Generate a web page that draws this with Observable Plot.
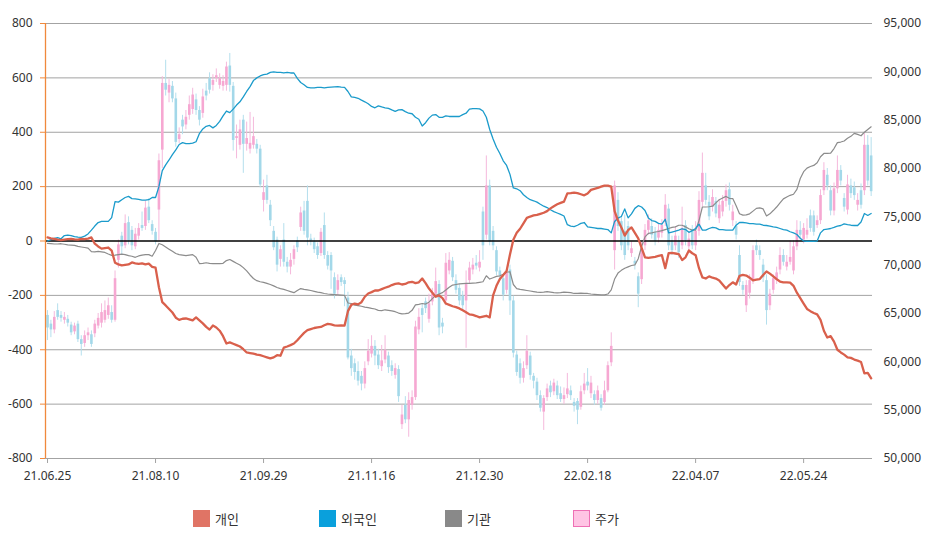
<!DOCTYPE html>
<html><head><meta charset="utf-8">
<script src="https://cdn.jsdelivr.net/npm/d3@7"></script>
<script src="https://cdn.jsdelivr.net/npm/@observablehq/plot@0.6"></script>
<style>
body{margin:0;background:#fff;font-family:"Noto Sans","Noto Sans CJK KR",sans-serif;}
#wrap{position:relative;width:934px;height:541px;overflow:hidden;}
#legend{position:absolute;top:509px;left:0;width:934px;height:20px;}
.item{position:absolute;top:0;display:flex;align-items:center;font-size:13px;color:#333;font-family:"Noto Sans CJK KR",sans-serif;}
.sw{width:17px;height:17px;margin-right:5px;box-sizing:border-box;}
</style></head><body><div id="wrap"><div id="chart"></div><div id="legend"></div></div>
<script>
// x tick labels (trading-day index -> date label)
const tickIdx = [0, 32, 64, 96, 128, 160, 192, 224];
const dateLabels = ["21.06.25","21.08.10","21.09.29","21.11.16","21.12.30","22.02.18","22.04.07","22.05.24"];
const leftTicks = [-800,-600,-400,-200,0,200,400,600,800];
const priceTicks = [50000,55000,60000,65000,70000,75000,80000,85000,90000,95000];

// 개인 (individual) cumulative net buying
const gaein = [13,10,8,5,3,5,7,8,6,5,
8,7,9,13,-10,-20,-28,-26,-24,-35,
-80,-86,-90,-88,-86,-79,-82,-84,-82,-86,
-83,-95,-98,-170,-225,-237,-250,-263,-282,-290,
-286,-285,-288,-292,-281,-292,-303,-316,-326,-311,
-318,-330,-350,-377,-373,-378,-383,-388,-398,-410,
-412,-414,-418,-420,-424,-428,-432,-428,-420,-422,
-392,-388,-383,-377,-365,-351,-338,-328,-324,-320,
-318,-316,-310,-305,-307,-310,-311,-310,-311,-258,
-235,-230,-233,-225,-205,-193,-188,-182,-182,-177,
-172,-168,-162,-158,-156,-160,-158,-152,-150,-155,
-152,-138,-155,-175,-190,-205,-200,-210,-230,-235,
-240,-243,-248,-255,-262,-270,-272,-276,-281,-278,
-275,-281,-200,-165,-140,-125,-110,-50,5,30,
45,65,85,90,94,96,100,104,110,120,
128,135,140,145,175,176,178,176,172,168,
175,188,192,195,200,204,204,200,110,75,
50,20,40,50,30,10,-25,-60,-62,-60,
-58,-55,-52,-100,-45,-44,-46,-48,-70,-60,
-35,-45,-52,-100,-134,-138,-130,-135,-138,-145,
-160,-175,-162,-152,-160,-128,-125,-127,-135,-145,
-142,-140,-125,-112,-120,-130,-140,-149,-152,-152,
-153,-165,-190,-210,-230,-250,-258,-265,-270,-290,
-330,-355,-350,-370,-400,-410,-418,-428,-430,-436,
-440,-445,-487,-485,-505];

// 외국인 (foreign)
const foreign = [0,5,10,12,8,20,22,20,16,14,
13,18,26,40,55,68,72,72,72,86,
145,143,152,160,164,156,155,153,150,150,
152,160,160,200,259,280,298,318,335,355,
362,358,358,360,365,395,412,422,425,416,
425,440,460,478,472,485,500,512,530,550,
568,590,600,607,612,614,620,622,620,620,
618,620,618,618,598,583,575,565,563,563,
565,565,563,565,566,567,568,566,565,550,
530,528,525,518,512,505,495,490,497,493,
490,488,482,477,482,483,476,470,468,455,
448,423,435,452,463,465,455,455,460,458,
458,458,458,465,470,485,487,487,486,478,
455,410,375,345,322,295,278,245,195,192,
185,170,160,152,148,143,135,128,123,115,
108,103,98,92,60,55,53,58,65,68,
52,50,48,46,46,44,42,30,72,84,
90,118,85,100,120,130,125,112,85,75,
72,65,62,80,30,33,36,40,45,42,
32,38,46,62,40,40,46,50,48,42,
42,40,40,40,58,68,68,67,64,64,
62,62,58,57,55,52,50,46,42,40,
34,30,24,10,0,-1,-1,-1,0,30,
42,44,46,50,55,57,63,60,58,57,
57,70,101,94,101];

// 기관 (institution)
const inst = [-9,-10,-11,-11,-10,-12,-14,-15,-16,-20,
-22,-24,-26,-39,-40,-38,-40,-42,-48,-53,
-52,-50,-48,-50,-54,-56,-60,-55,-52,-50,
-50,-56,-35,-9,-14,-22,-30,-38,-46,-50,
-52,-54,-52,-50,-60,-83,-82,-80,-82,-83,
-83,-83,-82,-72,-68,-75,-82,-88,-98,-110,
-125,-138,-146,-150,-152,-156,-160,-165,-171,-175,
-178,-182,-186,-190,-182,-175,-178,-180,-182,-185,
-188,-190,-193,-195,-196,-197,-198,-199,-200,-228,
-230,-236,-238,-240,-243,-245,-248,-250,-255,-256,
-253,-255,-257,-260,-265,-268,-267,-265,-255,-235,
-233,-230,-232,-225,-212,-200,-195,-190,-180,-170,
-162,-160,-158,-157,-156,-156,-155,-154,-152,-150,
-128,-140,-135,-130,-128,-122,-115,-113,-160,-175,
-178,-180,-182,-184,-186,-188,-189,-188,-186,-188,
-190,-191,-190,-188,-189,-190,-193,-193,-192,-193,
-193,-195,-196,-197,-198,-198,-195,-180,-140,-118,
-108,-100,-95,-90,-88,-65,-20,15,28,30,
33,35,38,42,46,50,52,58,58,52,
45,40,40,75,125,125,126,128,140,152,
158,164,157,156,130,100,95,96,100,110,
120,122,118,92,100,112,125,140,155,162,
168,172,190,230,255,268,274,278,288,310,
322,322,323,340,362,364,368,378,385,396,
392,387,400,410,420];

// 주가 (share price, won)
const open = [64800,63900,63300,65300,64800,64300,64400,63800,63100,63900,
62300,61900,62700,62800,62900,63700,64000,64300,64800,65100,
64300,70500,73000,72000,74400,73600,71900,73000,74100,74000,
76000,74200,73400,75700,81900,88800,87800,88500,87200,83000,
85000,84500,85500,86100,87100,86000,85700,88000,89300,88600,
89300,88600,88500,88600,90600,88500,83100,82400,85000,82500,
82000,82400,82500,82000,76700,78200,76200,73500,72600,70600,
72600,70300,69800,70600,72500,73900,75600,76600,72700,72400,
71900,71200,74100,71000,71000,68700,67400,68700,68400,66600,
60600,59800,59000,58500,57700,60000,60800,61600,60700,59500,
60200,60600,59600,58600,59200,53500,55500,54000,55500,56300,
63300,65500,66200,64400,66200,67000,68000,64000,66300,69400,
70400,68400,67600,66800,66300,68400,69500,70200,69700,75500,
73100,78200,73500,71500,69400,68600,67400,69500,66300,60700,
59800,58300,59600,60600,58500,57900,56500,54800,56300,57500,
56900,57500,56700,56100,56600,57000,55800,55900,55300,57000,
57900,56700,56600,56000,56200,55800,57000,59900,71500,76700,
74500,73500,74000,71200,70400,68800,68500,72000,73600,74000,
73400,72800,73300,74400,75800,72500,72000,72500,72000,74100,
71900,73600,72000,73500,76500,78200,76500,76000,76600,74800,
75500,76600,77800,74600,74000,71000,67900,65800,67100,68400,
72000,71500,70000,68400,65800,67400,68400,69500,71000,69800,
70300,69400,71900,73600,72600,73100,75100,75100,74100,74600,
77700,79300,77700,75600,77900,79800,76900,75700,78200,78000,
76200,77700,77700,82400,81300];
const high = [65300,64300,65200,66000,65200,65100,64800,64100,64000,64200,
62700,63200,63500,63200,64300,65000,66000,66300,66600,65800,
69400,72600,73400,75200,75000,74000,73800,74300,75500,76600,
76900,74600,73800,81500,89500,91200,89200,89000,87800,84200,
85500,86000,87500,88300,87700,86400,88200,88800,89900,89700,
90300,89800,89600,91000,91900,88900,84500,85000,85500,84800,
85800,85300,83000,82400,78800,79300,76700,74000,72900,72000,
74300,70800,71200,72000,72900,76000,76600,78200,73200,72800,
72300,73800,75400,71400,71300,69200,69000,69000,68700,67200,
61300,60300,60000,59000,60000,62300,62700,62200,61300,61700,
62700,61000,60100,59800,59600,55500,56400,56800,57000,64200,
65500,66000,66600,67000,67600,69700,68400,64500,71200,71300,
70800,69000,68000,67300,69400,70300,70700,71000,71500,76000,
81300,78800,74000,71900,69800,69000,69600,70000,66800,61100,
60300,60000,62700,61000,58800,58300,57000,56500,57700,58000,
58200,58000,57400,57300,58800,57500,56200,56200,57500,58800,
59300,58500,57000,57500,56600,58000,60000,63000,78700,77500,
75000,75200,74500,72400,70800,69200,72400,74200,75200,74800,
73900,74300,74700,77300,76300,73000,74000,73000,76000,74600,
73500,74100,74500,77600,81600,79500,77200,77800,77000,76800,
77200,78300,78500,76200,74500,72000,68300,68400,69000,72000,
72600,72000,70600,69000,67500,69000,69800,71800,71600,71000,
72500,72500,74600,74500,74300,74800,75700,75600,75100,77800,
80600,80000,78200,78500,81300,80300,77400,79300,78900,78600,
77400,78400,83600,83400,83200];
const low = [62200,62500,62900,64300,64100,63900,63600,62700,62800,62000,
60600,61500,62200,61500,62500,63400,63500,64000,64400,64000,
64100,69700,71000,71700,72100,71500,71600,72600,73500,73600,
74300,73100,72100,72500,80000,87500,86800,86800,82200,82600,
83500,84000,85000,85600,85500,84400,85200,87000,87700,88000,
88900,88200,88000,88000,87900,81800,81000,81900,79500,81800,
81500,82000,81500,78000,75500,76300,74000,71500,69300,69800,
69800,69200,69000,70000,71300,73500,73100,72000,72000,71200,
70600,70900,70600,69500,67500,66500,66800,67800,65700,60200,
58500,58100,57500,57000,57200,59600,60400,59600,59200,59000,
59800,58800,58500,58200,55800,53000,53600,52200,55000,56000,
62800,63000,65000,64000,65800,66700,62700,62900,65800,69000,
68300,67000,65800,65300,61400,68000,69000,69500,69300,70500,
72600,72000,71500,68900,68400,66300,67000,64800,60400,58500,
57700,57800,59200,58100,57200,56000,54800,52900,55900,56300,
56500,56100,55800,55600,56200,56000,54800,53500,55000,56600,
57000,56200,55500,55600,54900,55500,56800,59500,69500,73500,
71500,70500,71500,70800,69500,65600,68000,71500,73100,72700,
72000,72300,72800,74000,71500,71000,71500,70700,71600,72000,
71200,71600,71500,73000,76000,76200,74600,75500,74900,74300,
75000,76000,75600,74000,72600,67800,66900,65100,66500,68000,
71000,70500,68200,63800,65300,67000,68000,69000,69900,69400,
70000,69000,71500,72600,72200,72700,73400,73000,73800,74200,
77200,77700,75100,75100,77400,78200,75500,75200,76900,76700,
75600,75800,77200,78200,77100];
const close = [63500,63300,64600,64600,64500,64600,64000,63000,63700,62300,
61800,62700,63000,61800,63900,64500,65100,65300,65800,64300,
68600,72100,71900,74300,72500,72000,73200,73800,73800,75900,
74600,73500,72400,80800,88800,88100,88600,87200,82700,83500,
84300,85300,86600,87600,86000,85000,87400,87500,88100,89100,
89600,89300,89000,90500,88600,82900,83300,84000,82500,83100,
82600,83300,82000,78300,77500,76700,74600,71800,70000,71600,
70300,69800,70500,71600,71800,75400,73500,72800,72500,71600,
71000,73400,71000,69900,69400,67000,68400,68200,68000,60400,
59300,58900,58000,57700,59300,61100,61600,60600,59600,60100,
61200,59400,59000,59300,56400,54500,54000,56000,56300,63600,
64600,64800,65500,66000,67000,68300,63500,63600,70200,70500,
68700,67400,66300,65800,68000,69700,70000,69900,70300,72000,
78200,72400,72000,69300,68900,66900,69200,66300,60900,58900,
58300,59300,61100,58600,58000,56500,55200,56200,57200,56800,
57800,56500,56100,56500,57200,56500,55400,55000,56900,57700,
57500,57800,56000,57000,55200,57000,59600,61600,78200,74000,
72000,71000,72000,71700,70100,67000,71700,73600,74600,73100,
72500,73600,74100,76200,72000,71500,73000,71300,73800,72500,
72700,72000,73500,76700,79500,76700,75000,77000,75300,76200,
76600,77700,76200,75500,73100,68200,67400,67900,68400,71500,
71500,71000,68700,65300,67000,68600,69200,71000,70300,70300,
70800,71900,73600,73100,73800,73600,73800,73400,74600,77200,
79800,78200,75600,77900,79800,78700,76000,78300,77400,77200,
76700,76200,82400,78700,77600];

// price (right axis 50,000–95,000) onto the left scale (-800–800)
const toL = p => (p - 72500) / 28.125;
const fromL = v => Math.round(v * 28.125 + 72500);

const candles = open.map((o, i) => ({i, o: toL(o), h: toL(high[i]), l: toL(low[i]), c: toL(close[i]), up: close[i] >= o}));
const ups = candles.filter(d => d.up), downs = candles.filter(d => !d.up);
const lines = gaein.map((v, i) => ({i, a: v, f: foreign[i], g: inst[i]}));

const PINK = "#f6a8d2", PINKW = "#f5b9dc", BLUE = "#a3d8e9", BLUEW = "#b4dfed";
const font = "'Noto Sans', 'DejaVu Sans', sans-serif";

const chart = Plot.plot({
  width: 934, height: 495,
  marginTop: 23, marginBottom: 37, marginLeft: 45, marginRight: 62,
  x: {domain: [-0.6, 244.4], axis: null, label: null},
  y: {domain: [-800, 800], axis: null, label: null},
  style: {fontFamily: font, fontSize: "12px", background: "#fff", color: "#333"},
  marks: [
    Plot.ruleY(leftTicks.filter(d => d !== 0), {stroke: "#a3a3a3", strokeWidth: 1}),
    Plot.ruleX(ups, {x: "i", y1: "l", y2: "h", stroke: PINKW, strokeWidth: 1}),
    Plot.ruleX(downs, {x: "i", y1: "l", y2: "h", stroke: BLUEW, strokeWidth: 1}),
    Plot.ruleX(ups, {x: "i", y1: "o", y2: "c", stroke: PINK, strokeWidth: 2.6}),
    Plot.ruleX(downs, {x: "i", y1: "o", y2: "c", stroke: BLUE, strokeWidth: 2.6}),
    Plot.ruleY([0], {stroke: "#000", strokeWidth: 1.3}),
    Plot.line(lines, {x: "i", y: "g", stroke: "#8c8c8c", strokeWidth: 1.2}),
    Plot.line(lines, {x: "i", y: "f", stroke: "#1b9bcb", strokeWidth: 1.3}),
    Plot.line(lines, {x: "i", y: "a", stroke: "#d9604c", strokeWidth: 2.3}),
    Plot.ruleX([-0.6], {stroke: "#f0893c", strokeWidth: 1.3}),
    Plot.axisY({anchor: "left", label: null, ticks: leftTicks, tickSize: 5, tickPadding: 8, stroke: "#f0893c", fill: "#333", tickFormat: d => String(d)}),
    Plot.axisY({anchor: "right", label: null, ticks: priceTicks.map(toL), tickSize: 0, tickPadding: 11, fill: "#333", tickFormat: v => d3.format(",")(fromL(v))}),
    Plot.axisX({label: null, ticks: tickIdx, tickSize: 5, tickPadding: 8, stroke: "#a3a3a3", fill: "#333", tickFormat: i => dateLabels[tickIdx.indexOf(i)]})
  ]
});
document.getElementById("chart").appendChild(chart);

// legend
const legendItems = [
  {name: "개인", fill: "#e07465", border: "#e07465", x: 193},
  {name: "외국인", fill: "#0aa0dc", border: "#0aa0dc", x: 319},
  {name: "기관", fill: "#898989", border: "#898989", x: 445},
  {name: "주가", fill: "#ffc4e4", border: "#ee6fb4", x: 573}
];
const lg = document.getElementById("legend");
for (const it of legendItems) {
  const d = document.createElement("div");
  d.className = "item";
  d.style.left = it.x + "px";
  d.innerHTML = `<div class="sw" style="background:${it.fill};border:1.5px solid ${it.border}"></div><span>${it.name}</span>`;
  lg.appendChild(d);
}
</script></body></html>
